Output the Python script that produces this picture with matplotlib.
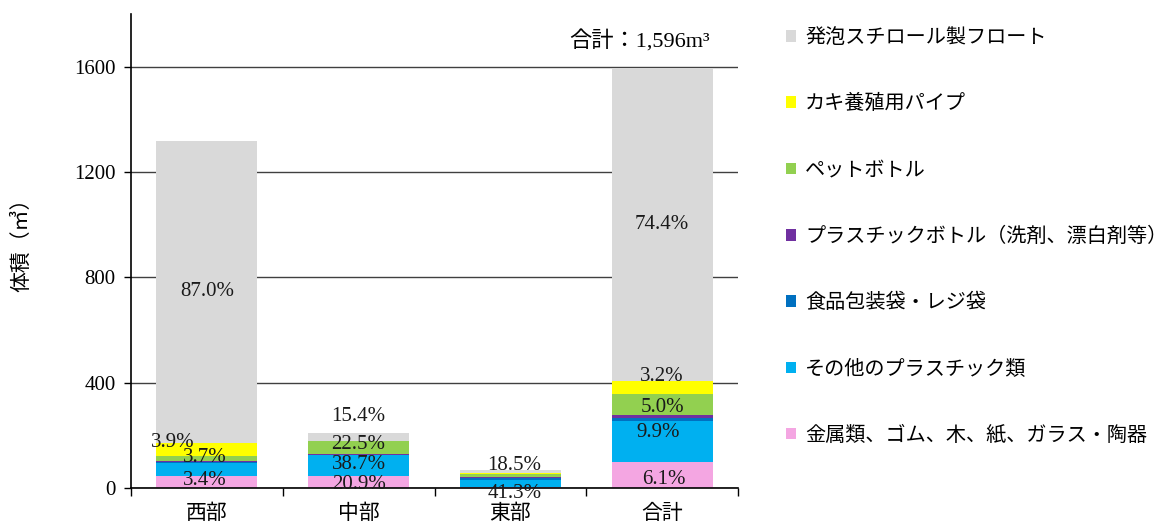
import matplotlib
matplotlib.use("Agg")
import matplotlib.pyplot as plt
from matplotlib.patches import Patch
import numpy as np

# ---------------- data ----------------
regions = ["西部", "中部", "東部", "合計"]
series_names = [
    "金属類、ゴム、木、紙、ガラス・陶器",
    "その他のプラスチック類",
    "食品包装袋・レジ袋",
    "プラスチックボトル（洗剤、漂白剤等）",
    "ペットボトル",
    "カキ養殖用パイプ",
    "発泡スチロール製フロート",
]
# volumes (m3) per region, bottom -> top order of stacking
metal      = [45.0, 44.0, 3.4, 97.0]
other_pl   = [49.0, 81.0, 28.0, 158.0]
food_bag   = [4.0, 1.5, 5.4, 9.0]
pl_bottle  = [3.0, 3.5, 4.8, 12.5]
pet        = [19.0, 47.0, 11.6, 80.0]
oyster     = [51.0, 1.0, 2.2, 51.0]
styrofoam  = [1147.0, 32.0, 12.6, 1188.0]

yticks = [0, 400, 800, 1200, 1600]
total_text = "合計：1,596m³"

# percentage labels shown in the chart: (region idx, series idx, text)
pct_labels = [
    (0, 6, "87.0%"), (0, 5, "3.9%"), (0, 1, "3.7%"), (0, 0, "3.4%"),
    (1, 6, "15.4%"), (1, 4, "22.5%"), (1, 1, "38.7%"), (1, 0, "20.9%"),
    (2, 6, "18.5%"), (2, 1, "41.3%"),
    (3, 6, "74.4%"), (3, 5, "3.2%"), (3, 4, "5.0%"), (3, 1, "9.9%"), (3, 0, "6.1%"),
]
# label nudges in pixels (dx, dy), same order as pct_labels
label_nudge = [
    (0, 0), (-34, 7), (-2, 12), (-2, 2),
    (0, 20), (0, 3), (0, 1), (0, -2),
    (4, 6), (4, -10),
    (0, 0), (0, 11), (0, -3), (-4, 9), (2, -4),
]

colors = ["#F4A6E2", "#00B0F0", "#0070C0", "#7030A0", "#92D050", "#FFFF00", "#D9D9D9"]

# ---------------- plot ----------------
SERIF = ["Liberation Serif", "Noto Sans CJK JP"]
JP = ["Noto Sans CJK JP", "DejaVu Sans"]
FS = 15

fig = plt.figure(figsize=(11.74, 5.25), dpi=100)
ax = fig.add_axes([131/1174, 37/525, (738-131)/1174, (488-14)/525])

series = [metal, other_pl, food_bag, pl_bottle, pet, oyster, styrofoam]
x = np.arange(len(regions))
bottom = np.zeros(len(regions))
bottoms = []
for vals, col in zip(series, colors):
    vals = np.array(vals)
    ax.bar(x, vals, width=0.665, bottom=bottom, color=col, linewidth=0, zorder=2)
    bottoms.append(bottom.copy())
    bottom = bottom + vals

for (ri, si, txt), (dx, dy) in zip(pct_labels, label_nudge):
    yc = bottoms[si][ri] + series[si][ri] / 2
    ax.annotate(txt, (x[ri], yc), xytext=(dx, dy), textcoords="offset pixels",
                ha="center", va="center", fontsize=FS, family=SERIF, color="#1a1a1a",
                zorder=5)

ax.set_xlim(-0.5, len(regions) - 0.5)
ax.set_ylim(0, 1800)
ax.set_yticks(yticks)
ax.set_yticklabels([str(v) for v in yticks], family=SERIF, fontsize=FS)
ax.yaxis.grid(True, color="#404040", linewidth=1.0)
ax.set_axisbelow(True)

ax.set_xticks(np.arange(len(regions) + 1) - 0.5)
ax.set_xticklabels([])
ax.set_xticks(x, minor=True)
ax.set_xticklabels(regions, minor=True, family=JP, fontsize=FS)
ax.tick_params(axis="x", which="minor", length=0, pad=10)
ax.tick_params(axis="x", which="major", length=6, width=1, direction="out")
ax.tick_params(axis="y", length=5, width=1, direction="out", pad=6)

for s in ["top", "right"]:
    ax.spines[s].set_visible(False)
for s in ["left", "bottom"]:
    ax.spines[s].set_color("black")
    ax.spines[s].set_linewidth(1.2)

fig.text(21/1174, 1 - 240/525, "体積（㎥）", rotation=90, ha="center", va="center",
         family=JP, fontsize=FS)
fig.text(710/1174, 1 - 42/525, total_text, ha="right", va="center",
         family=SERIF, fontsize=16)

handles = [Patch(facecolor=c, edgecolor="none") for c in colors[::-1]]
leg = fig.legend(handles, series_names[::-1], loc="upper left",
                 bbox_to_anchor=(786/1174, 1 - 27/525), frameon=False,
                 prop={"family": JP, "size": 14.5}, handlelength=0.5, handleheight=0.5,
                 handletextpad=0.45, labelspacing=2.25, borderpad=0, borderaxespad=0)

fig.savefig("out.png", dpi=100)
